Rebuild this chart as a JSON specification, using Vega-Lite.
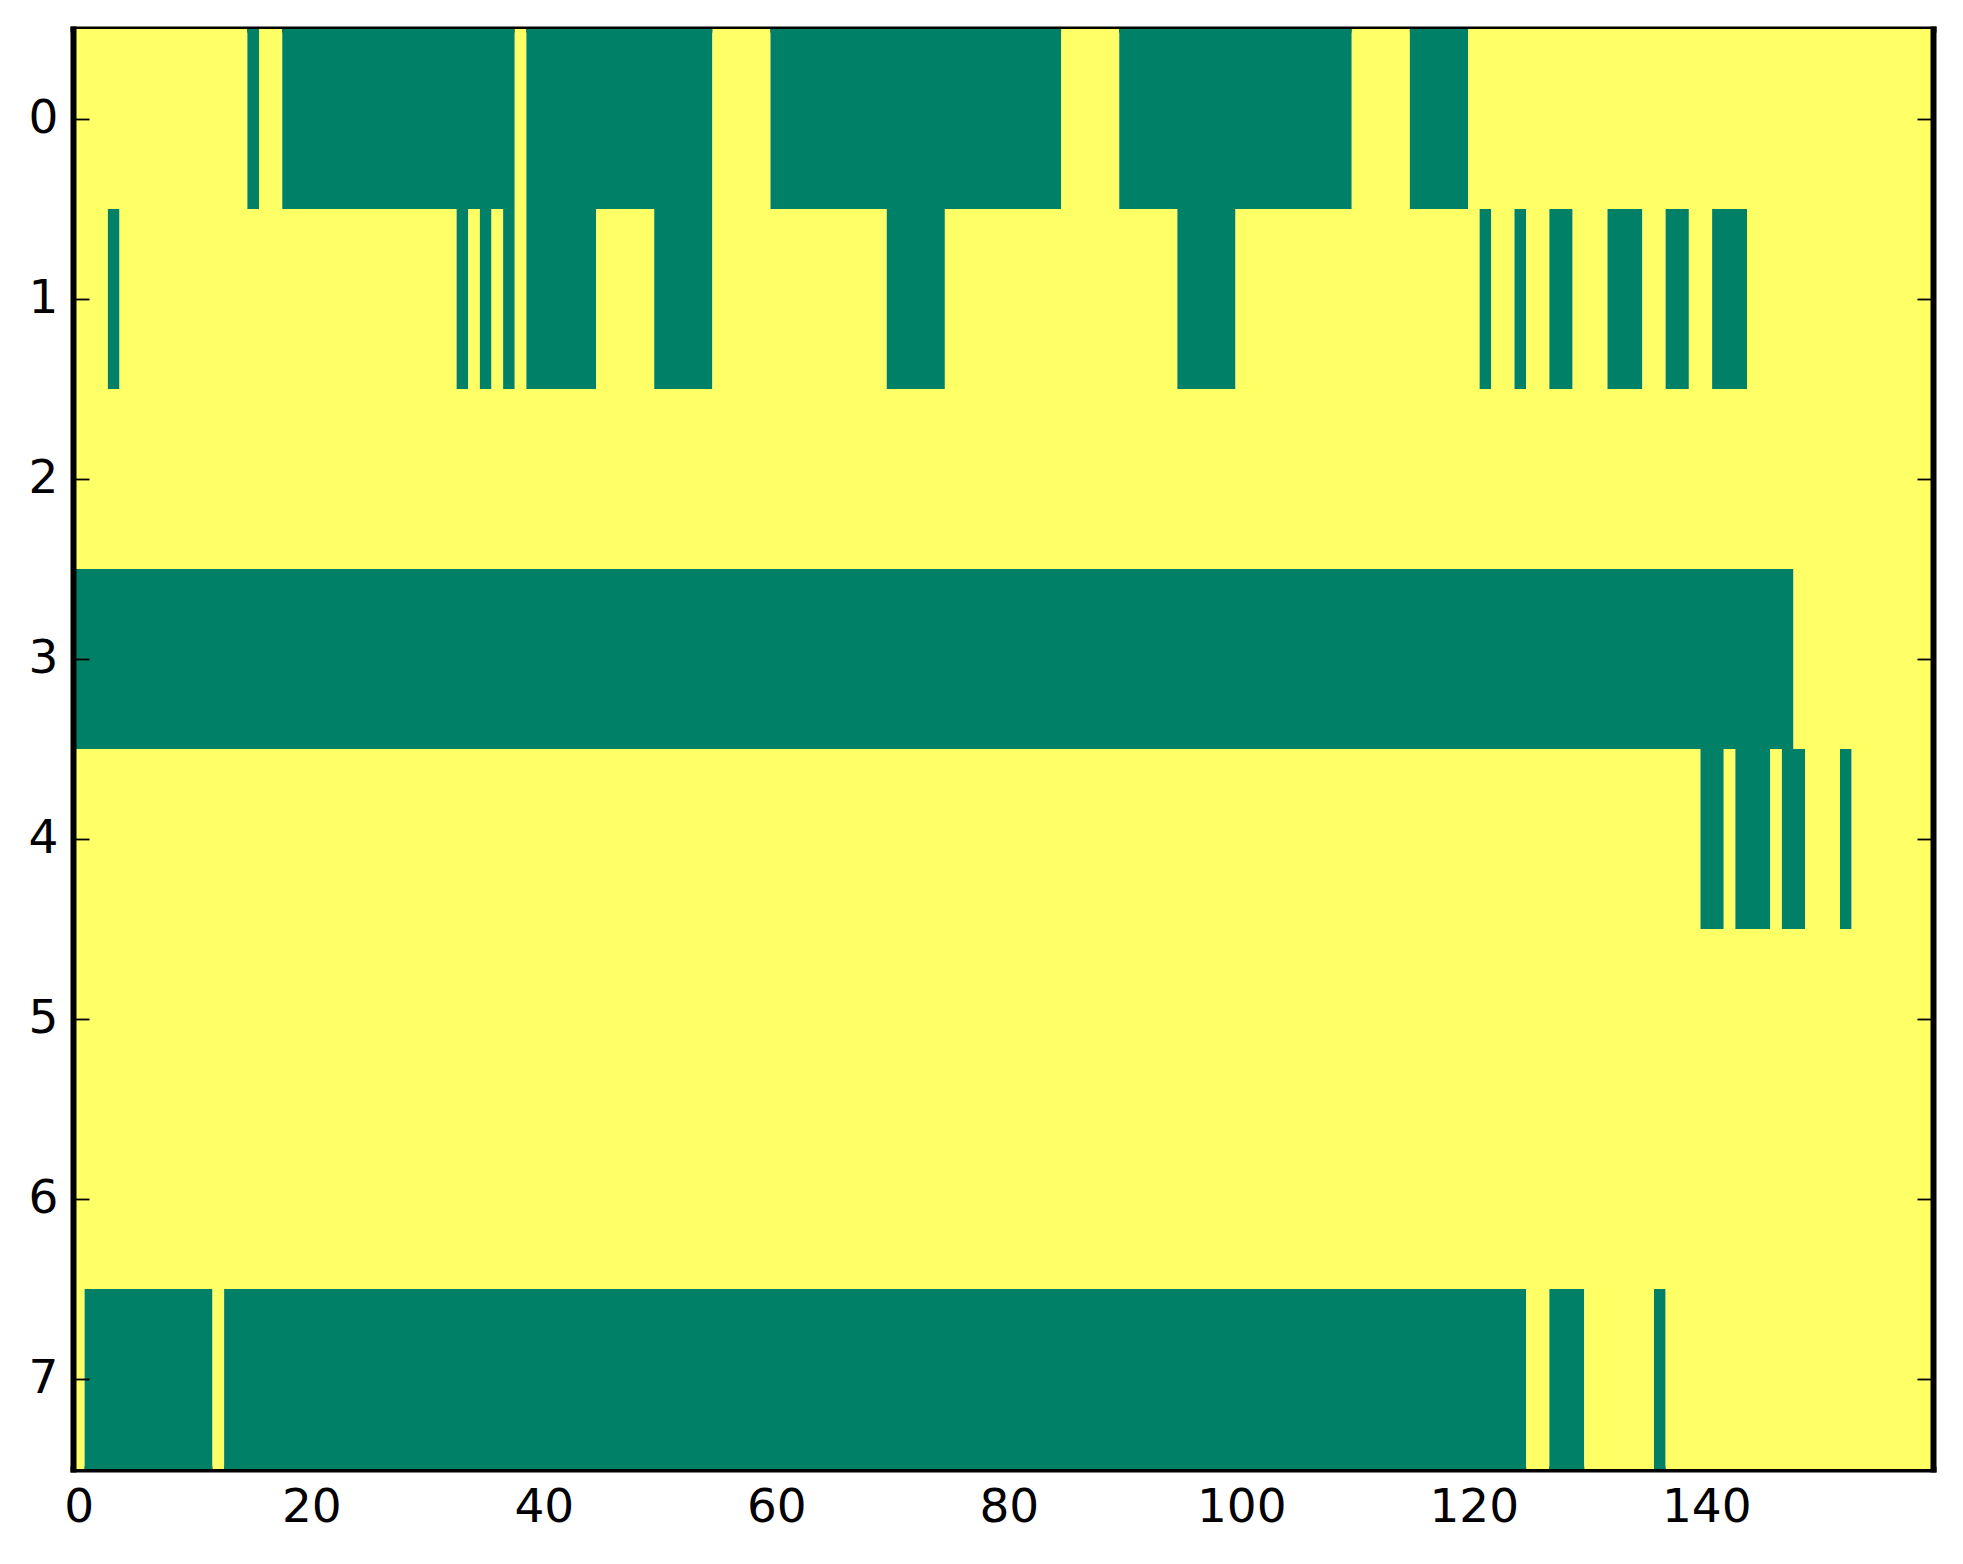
{
  "$schema": "https://vega.github.io/schema/vega-lite/v6.json",
  "width": 1860,
  "height": 1440,
  "autosize": {"type": "none"},
  "padding": {"left": 73, "top": 29, "right": 30, "bottom": 95},
  "background": "white",
  "data": {
    "values": [
      {"r": 0, "x0": -0.5, "x1": 14.5, "v": 1},
      {"r": 0, "x0": 14.5, "x1": 15.5, "v": 0},
      {"r": 0, "x0": 15.5, "x1": 17.5, "v": 1},
      {"r": 0, "x0": 17.5, "x1": 37.5, "v": 0},
      {"r": 0, "x0": 37.5, "x1": 38.5, "v": 1},
      {"r": 0, "x0": 38.5, "x1": 54.5, "v": 0},
      {"r": 0, "x0": 54.5, "x1": 59.5, "v": 1},
      {"r": 0, "x0": 59.5, "x1": 84.5, "v": 0},
      {"r": 0, "x0": 84.5, "x1": 89.5, "v": 1},
      {"r": 0, "x0": 89.5, "x1": 109.5, "v": 0},
      {"r": 0, "x0": 109.5, "x1": 114.5, "v": 1},
      {"r": 0, "x0": 114.5, "x1": 119.5, "v": 0},
      {"r": 0, "x0": 119.5, "x1": 159.5, "v": 1},
      {"r": 1, "x0": -0.5, "x1": 2.5, "v": 1},
      {"r": 1, "x0": 2.5, "x1": 3.5, "v": 0},
      {"r": 1, "x0": 3.5, "x1": 32.5, "v": 1},
      {"r": 1, "x0": 32.5, "x1": 33.5, "v": 0},
      {"r": 1, "x0": 33.5, "x1": 34.5, "v": 1},
      {"r": 1, "x0": 34.5, "x1": 35.5, "v": 0},
      {"r": 1, "x0": 35.5, "x1": 36.5, "v": 1},
      {"r": 1, "x0": 36.5, "x1": 37.5, "v": 0},
      {"r": 1, "x0": 37.5, "x1": 38.5, "v": 1},
      {"r": 1, "x0": 38.5, "x1": 44.5, "v": 0},
      {"r": 1, "x0": 44.5, "x1": 49.5, "v": 1},
      {"r": 1, "x0": 49.5, "x1": 54.5, "v": 0},
      {"r": 1, "x0": 54.5, "x1": 69.5, "v": 1},
      {"r": 1, "x0": 69.5, "x1": 74.5, "v": 0},
      {"r": 1, "x0": 74.5, "x1": 94.5, "v": 1},
      {"r": 1, "x0": 94.5, "x1": 99.5, "v": 0},
      {"r": 1, "x0": 99.5, "x1": 120.5, "v": 1},
      {"r": 1, "x0": 120.5, "x1": 121.5, "v": 0},
      {"r": 1, "x0": 121.5, "x1": 123.5, "v": 1},
      {"r": 1, "x0": 123.5, "x1": 124.5, "v": 0},
      {"r": 1, "x0": 124.5, "x1": 126.5, "v": 1},
      {"r": 1, "x0": 126.5, "x1": 128.5, "v": 0},
      {"r": 1, "x0": 128.5, "x1": 131.5, "v": 1},
      {"r": 1, "x0": 131.5, "x1": 134.5, "v": 0},
      {"r": 1, "x0": 134.5, "x1": 136.5, "v": 1},
      {"r": 1, "x0": 136.5, "x1": 138.5, "v": 0},
      {"r": 1, "x0": 138.5, "x1": 140.5, "v": 1},
      {"r": 1, "x0": 140.5, "x1": 143.5, "v": 0},
      {"r": 1, "x0": 143.5, "x1": 159.5, "v": 1},
      {"r": 2, "x0": -0.5, "x1": 159.5, "v": 1},
      {"r": 3, "x0": -0.5, "x1": 147.5, "v": 0},
      {"r": 3, "x0": 147.5, "x1": 159.5, "v": 1},
      {"r": 4, "x0": -0.5, "x1": 139.5, "v": 1},
      {"r": 4, "x0": 139.5, "x1": 141.5, "v": 0},
      {"r": 4, "x0": 141.5, "x1": 142.5, "v": 1},
      {"r": 4, "x0": 142.5, "x1": 145.5, "v": 0},
      {"r": 4, "x0": 145.5, "x1": 146.5, "v": 1},
      {"r": 4, "x0": 146.5, "x1": 148.5, "v": 0},
      {"r": 4, "x0": 148.5, "x1": 151.5, "v": 1},
      {"r": 4, "x0": 151.5, "x1": 152.5, "v": 0},
      {"r": 4, "x0": 152.5, "x1": 159.5, "v": 1},
      {"r": 5, "x0": -0.5, "x1": 159.5, "v": 1},
      {"r": 6, "x0": -0.5, "x1": 159.5, "v": 1},
      {"r": 7, "x0": -0.5, "x1": 0.5, "v": 1},
      {"r": 7, "x0": 0.5, "x1": 11.5, "v": 0},
      {"r": 7, "x0": 11.5, "x1": 12.5, "v": 1},
      {"r": 7, "x0": 12.5, "x1": 124.5, "v": 0},
      {"r": 7, "x0": 124.5, "x1": 126.5, "v": 1},
      {"r": 7, "x0": 126.5, "x1": 129.5, "v": 0},
      {"r": 7, "x0": 129.5, "x1": 135.5, "v": 1},
      {"r": 7, "x0": 135.5, "x1": 136.5, "v": 0},
      {"r": 7, "x0": 136.5, "x1": 159.5, "v": 1}
    ]
  },
  "layer": [
    {
      "mark": {"type": "rect"},
      "encoding": {
        "x": {
          "field": "x0",
          "type": "quantitative",
          "scale": {"domain": [-0.5, 159.5], "nice": false, "zero": false},
          "axis": {"orient": "bottom", "values": [0, 20, 40, 60, 80, 100, 120, 140], "title": null}
        },
        "x2": {"field": "x1"},
        "y": {
          "field": "r",
          "type": "ordinal",
          "scale": {"domain": [0, 1, 2, 3, 4, 5, 6, 7], "paddingInner": 0, "paddingOuter": 0},
          "axis": {"orient": "left", "title": null}
        },
        "color": {
          "field": "v",
          "type": "nominal",
          "scale": {"domain": [0, 1], "range": ["#008066", "#ffff66"]},
          "legend": null
        }
      }
    },
    {
      "mark": {"type": "rect", "opacity": 0},
      "encoding": {
        "x": {
          "field": "x0",
          "type": "quantitative",
          "axis": {"orient": "top", "values": [0, 20, 40, 60, 80, 100, 120, 140], "labels": false, "title": null}
        },
        "x2": {"field": "x1"},
        "y": {
          "field": "r",
          "type": "ordinal",
          "axis": {"orient": "right", "labels": false, "title": null}
        }
      }
    }
  ],
  "resolve": {"axis": {"x": "independent", "y": "independent"}},
  "config": {
    "view": {"stroke": null},
    "axis": {
      "domain": true,
      "domainColor": "black",
      "domainWidth": 6,
      "domainCap": "square",
      "grid": false,
      "ticks": true,
      "tickColor": "black",
      "tickWidth": 1.8,
      "tickSize": -16,
      "labelFont": "DejaVu Sans",
      "labelFontSize": 47,
      "labelColor": "black",
      "labelPadding": 31
    }
  }
}
